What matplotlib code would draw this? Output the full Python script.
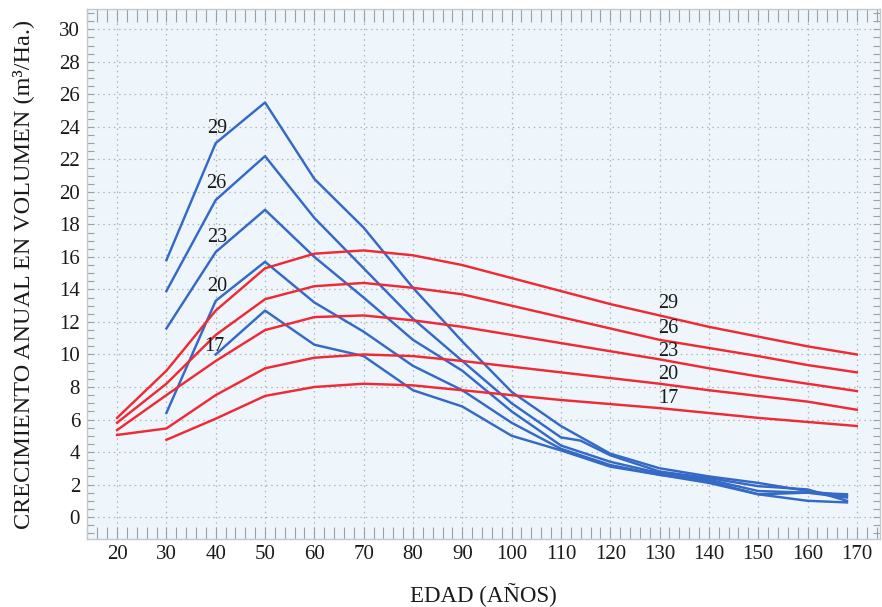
import numpy as np
import matplotlib
matplotlib.use('Agg')
import matplotlib.pyplot as plt
from matplotlib.ticker import MultipleLocator

plt.rcParams['font.family'] = ['Liberation Serif', 'DejaVu Serif']

# ---- datos: crecimiento anual en volumen (m3/Ha) ----
# curvas azules (corrientes), índice de sitio 29, 26, 23, 20, 17
edad_az_29 = [30, 40, 50, 60, 70, 80, 90, 100, 110, 120, 130, 140, 150, 160, 168]
az_29 = [15.8, 23.0, 25.5, 20.8, 17.8, 14.1, 10.8, 7.7, 5.6, 3.9, 3.0, 2.5, 2.1, 1.6, 1.3]
edad_az_26 = [30, 40, 50, 60, 70, 80, 90, 100, 110, 114, 120, 130, 140, 150, 160, 168]
az_26 = [13.9, 19.5, 22.2, 18.4, 15.3, 12.2, 9.6, 7.0, 4.9, 4.7, 3.8, 2.8, 2.4, 1.9, 1.7, 1.0]
edad_az_23 = [30, 40, 50, 60, 70, 80, 90, 100, 110, 120, 130, 140, 150, 160, 168]
az_23 = [11.6, 16.3, 18.9, 16.0, 13.5, 10.9, 9.0, 6.5, 4.4, 3.4, 2.7, 2.3, 1.6, 1.5, 1.2]
edad_az_20 = [30, 40, 50, 60, 70, 80, 90, 100, 110, 120, 130, 140, 150, 160, 168]
az_20 = [6.4, 13.3, 15.7, 13.2, 11.4, 9.3, 7.8, 5.8, 4.2, 3.2, 2.6, 2.2, 1.4, 1.5, 1.4]
edad_az_17 = [40, 50, 60, 70, 80, 90, 100, 110, 120, 130, 140, 150, 160, 168]
az_17 = [10.0, 12.7, 10.6, 9.9, 7.8, 6.8, 5.0, 4.1, 3.1, 2.6, 2.1, 1.4, 1.0, 0.9]

# curvas rojas (medias)
edad_rj = [20, 30, 40, 50, 60, 70, 80, 90, 100, 110, 120, 130, 140, 150, 160, 170]
rj_29 = [6.1, 9.0, 12.7, 15.3, 16.2, 16.4, 16.1, 15.5, 14.7, 13.9, 13.1, 12.4, 11.7, 11.1, 10.5, 10.0]
rj_26 = [5.8, 8.2, 11.2, 13.4, 14.2, 14.4, 14.1, 13.7, 13.0, 12.3, 11.6, 10.9, 10.4, 9.9, 9.35, 8.9]
rj_23 = [5.35, 7.5, 9.6, 11.5, 12.3, 12.4, 12.1, 11.7, 11.2, 10.7, 10.2, 9.7, 9.15, 8.65, 8.2, 7.75]
rj_20 = [5.05, 5.45, 7.5, 9.15, 9.8, 10.0, 9.9, 9.6, 9.25, 8.9, 8.55, 8.2, 7.8, 7.45, 7.1, 6.6]
edad_rj_17 = [30, 40, 50, 60, 70, 80, 90, 100, 110, 120, 130, 140, 150, 160, 170]
rj_17 = [4.75, 6.05, 7.45, 8.0, 8.2, 8.1, 7.8, 7.5, 7.2, 6.95, 6.7, 6.4, 6.1, 5.85, 5.6]

etiquetas = ['29', '26', '23', '20', '17']
# posición de las etiquetas (edad, valor)
etq_az_x = [40.2, 40.2, 40.2, 40.2, 39.8]
etq_az_y = [23.9, 20.5, 17.2, 14.2, 10.5]
etq_rj_x = [131.8, 131.8, 131.8, 131.8, 131.8]
etq_rj_y = [13.15, 11.6, 10.2, 8.75, 7.3]

azul = '#3569c6'
rojo = '#ee2a36'

fig = plt.figure(figsize=(8.82, 6.07), dpi=100)
ax = fig.add_axes([87 / 882, 1 - 539 / 607, (880 - 87) / 882, (539 - 9) / 607])
ax.set_facecolor('#eef6fb')

for ex, yy in [(edad_az_29, az_29), (edad_az_26, az_26), (edad_az_23, az_23),
               (edad_az_20, az_20), (edad_az_17, az_17)]:
    ax.plot(ex, yy, color=azul, lw=1.75)
for ex, yy in [(edad_rj, rj_29), (edad_rj, rj_26), (edad_rj, rj_23),
               (edad_rj, rj_20), (edad_rj_17, rj_17)]:
    ax.plot(ex, yy, color=rojo, lw=1.75)

for t, x, y in zip(etiquetas, etq_az_x, etq_az_y):
    ax.text(x, y, t, ha='center', va='center', fontsize=14.5, color='#1a1a1a')
for t, x, y in zip(etiquetas, etq_rj_x, etq_rj_y):
    ax.text(x, y, t, ha='center', va='center', fontsize=14.5, color='#1a1a1a')

ax.set_xlim(13.9, 174.7)
ax.set_ylim(-1.35, 31.25)
ax.set_xticks(np.arange(20, 171, 10))
ax.set_yticks(np.arange(0, 31, 2))
ax.xaxis.set_minor_locator(MultipleLocator(2))
ax.yaxis.set_minor_locator(MultipleLocator(0.5))

ax.grid(True, which='major', color='#b0b5b9', lw=0.9, ls=(0, (1.2, 3.0)))
ax.set_axisbelow(True)

ax.tick_params(axis='x', which='both', direction='in', top=True, bottom=True,
               length=9, width=0.8, color='#9aa0a4', labelsize=15, pad=4,
               labelcolor='#1a1a1a')
ax.tick_params(axis='y', which='both', direction='in', left=True, right=True,
               length=5, width=0.8, color='#9aa0a4', labelsize=15, pad=5,
               labelcolor='#1a1a1a')
for s in ax.spines.values():
    s.set_color('#c5c9cc')
    s.set_linewidth(1.0)

ax.set_xlabel('EDAD (AÑOS)', fontsize=16.5, color='#1a1a1a', labelpad=14)
ax.set_ylabel('CRECIMIENTO ANUAL EN VOLUMEN (m³/Ha.)', fontsize=17.5,
              color='#1a1a1a', labelpad=18)

fig.savefig('out.png', dpi=100)
